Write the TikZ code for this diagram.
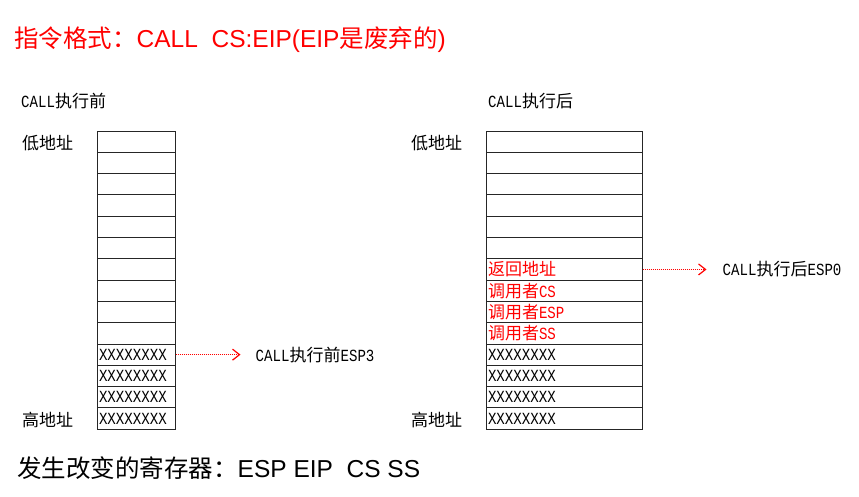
\documentclass[tikz,border=0pt]{standalone}
\usepackage{fontspec}
\setmainfont{Liberation Sans}
\newfontfamily\cjk{Noto Sans CJK SC}
\newfontfamily\mono[FakeStretch=0.83]{Liberation Mono}
\usetikzlibrary{arrows.meta,positioning}
\newcommand{\sm}[1]{{\fontsize{17}{17}\selectfont\mono #1}}

\begin{document}
\begin{tikzpicture}[x=1pt,y=-1pt,
    cell/.style={draw=black!85, line width=1pt, minimum height=21.3pt, inner xsep=2pt, inner ysep=0pt,
      align=left, font=\fontsize{17}{17}\selectfont\cjk},
    lcell/.style={cell, text width=74pt},
    rcell/.style={cell, text width=152pt},
    ptr/.style={red, densely dotted, line width=1pt, -{Straight Barb[length=7pt,width=11pt,line width=1.2pt]}},
    lbl/.style={anchor=west, inner sep=0pt, font=\fontsize{17}{17}\selectfont\cjk},
    big/.style={anchor=west, inner sep=0pt, font=\fontsize{24.5}{24.5}\selectfont}]
  \useasboundingbox (0,0) rectangle (859,496);
  % title
  \node[big, red] (title) at (14,40) {{\cjk 指令格式：}CALL\ \ CS:EIP(EIP{\cjk 是废弃的})};
  % stack before CALL
  \node[lbl] (before) at (21,101) {\sm{CALL}执行前};
  \foreach \i in {1,...,10}
    \node[lcell] (a\i) at (136,131+\i*21.3-10.65) {};
  \foreach \i in {11,...,14}
    \node[lcell] (a\i) at (136,131+\i*21.3-10.65) {\sm{XXXXXXXX}};
  \node[lbl] (alow) at (22,143) {低地址};
  \node[lbl] (ahigh) at (22,420) {高地址};
  \draw[ptr] (a11.east) -- ++(65,0) coordinate (pa);
  \node[lbl, right=15pt of pa] (espa) {\sm{CALL}执行前\sm{ESP3}};
  % stack after CALL
  \node[lbl] (after) at (488,101) {\sm{CALL}执行后};
  \foreach \i in {1,...,6}
    \node[rcell] (b\i) at (564,131+\i*21.3-10.65) {};
  \foreach \i/\t in {7/返回地址,8/调用者\sm{CS},9/调用者\sm{ESP},10/调用者\sm{SS}}
    \node[rcell, text=red] (b\i) at (564,131+\i*21.3-10.65) {\t};
  \foreach \i in {11,...,14}
    \node[rcell] (b\i) at (564,131+\i*21.3-10.65) {\sm{XXXXXXXX}};
  \node[lbl] (blow) at (411,143) {低地址};
  \node[lbl] (bhigh) at (411,420) {高地址};
  \draw[ptr] (b7.east) -- ++(64,0) coordinate (pb);
  \node[lbl, right=16pt of pb] (espb) {\sm{CALL}执行后\sm{ESP0}};
  % changed registers
  \node[big] (regs) at (17,468) {{\cjk 发生改变的寄存器：}ESP EIP\ \ CS SS};
\end{tikzpicture}
\end{document}
